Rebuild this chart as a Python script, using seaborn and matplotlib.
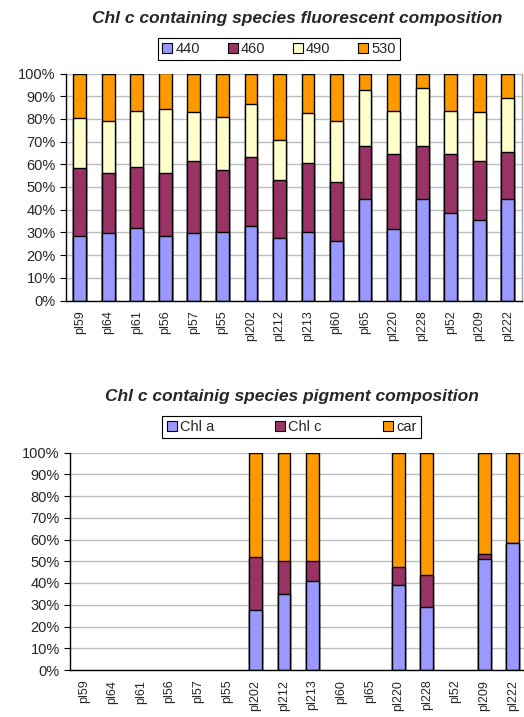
import numpy as np
import pandas as pd
import matplotlib
matplotlib.use("Agg")
import matplotlib.pyplot as plt
import seaborn as sns
from matplotlib.patches import Patch
from matplotlib.ticker import FixedLocator, FuncFormatter

# Species (x categories), shared by both panels
species = ["pl59", "pl64", "pl61", "pl56", "pl57", "pl55", "pl202", "pl212",
           "pl213", "pl60", "pl65", "pl220", "pl228", "pl52", "pl209", "pl222"]

# Fluorescent composition (% of total per species)
fluor_names = ["440", "460", "490", "530"]
f440 = [28.2, 29.6, 32.1, 28.2, 29.6, 30.2, 32.8, 27.6, 30.2, 26.2, 44.6, 31.5, 44.6, 38.6, 35.5, 44.6]
f460 = [30.0, 26.6, 26.7, 28.0, 31.8, 27.3, 30.5, 25.5, 30.5, 26.0, 23.4, 33.2, 23.4, 26.1, 25.9, 20.8]
f490 = [22.2, 22.8, 24.8, 28.1, 21.6, 23.4, 23.1, 17.6, 21.7, 26.8, 24.8, 18.9, 25.4, 18.9, 21.6, 24.0]
f530 = [19.6, 21.0, 16.4, 15.7, 17.0, 19.1, 13.6, 29.3, 17.6, 21.0, 7.2, 16.4, 6.6, 16.4, 17.0, 10.6]

# Pigment composition (% of total per species); NaN = not measured
nan = np.nan
pig_names = ["Chl a", "Chl c", "car"]
chl_a = [nan, nan, nan, nan, nan, nan, 27.5, 35.1, 41.1, nan, nan, 39.1, 29.0, nan, 51.2, 58.6]
chl_c = [nan, nan, nan, nan, nan, nan, 24.5, 14.9, 8.9, nan, nan, 8.3, 14.7, nan, 2.2, 0.0]
car = [nan, nan, nan, nan, nan, nan, 48.0, 50.0, 50.0, nan, nan, 52.6, 56.3, nan, 46.6, 41.4]

colors3 = ["#9999FF", "#993366", "#FF9900"]
colors4 = ["#9999FF", "#993366", "#FFFFCC", "#FF9900"]

sns.set_theme(style="white")
plt.rcParams["font.family"] = ["Liberation Sans", "DejaVu Sans"]

fig = plt.figure(figsize=(5.24, 7.17), dpi=100)
W, H = 524, 717


def ax_rect(l, t, r, b):
    return [l / W, 1 - b / H, (r - l) / W, (b - t) / H]


def stacked(ax, layers, colors, names):
    df = pd.DataFrame({"species": species})
    cum = np.zeros(len(species))
    cums = []
    for vals in layers:
        cum = cum + np.asarray(vals, dtype=float)
        cums.append(cum.copy())
    # draw the tallest (cumulative) layer first so lower segments sit on top
    for c, col in reversed(list(zip(cums, colors))):
        df["v"] = c
        sns.barplot(data=df, x="species", y="v", order=species, color=col,
                    saturation=1, width=0.45, edgecolor="black", linewidth=1.0,
                    errorbar=None, ax=ax)
    ax.set_xlim(-0.5, len(species) - 0.5)
    ax.set_ylim(0, 100)
    ax.set_xlabel("")
    ax.set_ylabel("")
    ax.yaxis.set_major_locator(FixedLocator(np.arange(0, 101, 10)))
    ax.yaxis.set_major_formatter(FuncFormatter(lambda v, p: f"{int(round(v))}%"))
    ax.yaxis.grid(True, color="#BDBDBD", linewidth=1.0)
    ax.set_axisbelow(True)
    ax.set_xticks(range(len(species)))
    ax.set_xticklabels(species, rotation=90, fontsize=9)
    ax.xaxis.set_minor_locator(FixedLocator(np.arange(-0.5, len(species), 1.0)))
    ax.tick_params(axis="x", which="major", length=0, pad=7)
    ax.tick_params(axis="x", which="minor", length=4, width=0.8, color="black", direction="out")
    ax.tick_params(axis="y", which="major", length=4, width=0.8, color="black",
                   direction="out", labelsize=10.5, pad=3, left=True)
    for s in ["left", "bottom"]:
        ax.spines[s].set_visible(True)
        ax.spines[s].set_color("black")
        ax.spines[s].set_linewidth(1.0)
    ax.spines["top"].set_visible(False)
    ax.spines["right"].set_visible(True)
    ax.spines["right"].set_color("#A0A0A0")
    ax.spines["right"].set_linewidth(1.0)


ax1 = fig.add_axes(ax_rect(65.5, 73.5, 522, 300.5))
stacked(ax1, [f440, f460, f490, f530], colors4, fluor_names)

ax2 = fig.add_axes(ax_rect(69.5, 452.5, 527, 670))
stacked(ax2, [chl_a, chl_c, car], colors3, pig_names)

title_kw = dict(fontsize=12.5, fontweight="bold", fontstyle="italic", ha="center", va="center")
fig.text(297.5 / W, 1 - 19 / H, "Chl c containing species fluorescent composition", **title_kw)
fig.text(291.5 / W, 1 - 396 / H, "Chl c containig species pigment composition", **title_kw)


def legend(names, colors, cx, cy, spacing):
    handles = [Patch(facecolor=c, edgecolor="black", linewidth=0.8) for c in colors]
    leg = fig.legend(handles, names, loc="center", bbox_to_anchor=(cx / W, 1 - cy / H),
                     ncol=len(names), frameon=True, fancybox=False, fontsize=10.5,
                     handlelength=0.7, handleheight=0.7, handletextpad=0.2,
                     columnspacing=spacing, borderpad=0.3, borderaxespad=0)
    fr = leg.get_frame()
    fr.set_edgecolor("black")
    fr.set_linewidth(0.8)
    fr.set_alpha(1)
    return leg


legend(fluor_names, colors4, 279, 49, 1.9)
legend(pig_names, colors3, 291.5, 427, 4.2)

fig.savefig("out.png", dpi=100)
